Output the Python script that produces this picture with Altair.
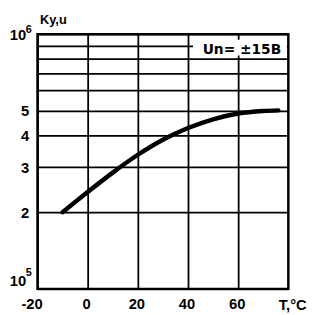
import altair as alt
import pandas as pd

# Curve: gain vs temperature
temps = [-10, 0, 10, 20, 30, 40, 50, 60, 70, 76]
gain = [2.0e5, 2.4e5, 2.86e5, 3.36e5, 3.85e5, 4.28e5, 4.63e5, 4.88e5, 4.99e5, 5.02e5]

# Axis ticks
x_ticks = [-20, 0, 20, 40, 60]
y_ticks = [1e5, 2e5, 3e5, 4e5, 5e5, 6e5, 7e5, 8e5, 9e5, 1e6]

# Exponents of the 10^n labels
exp_text = ["5", "6"]
exp_val = [1e5, 1e6]
exp_x = [-20, -20]

# Annotation
note_text = ["Un= ±15В"]
note_x = [61.5]
note_y = [8.66e5]
box_x = [42]
box_x2 = [79.4]
box_y = [8.25e5]
box_y2 = [9.5e5]

curve = pd.DataFrame({"T": temps, "K": gain})
note = pd.DataFrame({"label": note_text, "x": note_x, "y": note_y,
                     "bx": box_x, "bx2": box_x2, "by": box_y, "by2": box_y2})
exps = pd.DataFrame({"e": exp_text, "v": exp_val, "x": exp_x})

xscale = alt.Scale(domain=[-20, 80], nice=False, zero=False)
yscale = alt.Scale(type="log", domain=[1e5, 1e6], nice=False)

FONT = "Liberation Sans"

xaxis = alt.Axis(
    values=x_ticks, grid=True, ticks=False, domain=False,
    labelExpr="replace(datum.label, '\u2212', '-')",
    labelFont=FONT, labelFontSize=15, labelFontWeight="bold", labelColor="black",
    labelPadding=8, labelFlush=False, labelOverlap=False,
    labelOffset={"condition": {"test": "datum.value == -20", "value": -6}, "value": -1.5},
    title="T,°C", titleFont=FONT, titleFontSize=15, titleFontWeight="bold",
    titleColor="black", titleX=259, titleY=9, titleAlign="center",
    titleBaseline="top", gridColor="black", gridWidth=1.8, gridOpacity=1,
)
yaxis = alt.Axis(
    values=y_ticks, grid=True, ticks=False, domain=False,
    labelExpr="datum.value == 100000 || datum.value == 1000000 ? '10' : (datum.value <= 500001 ? format(round(datum.value/100000), 'd') : '')",
    labelFont=FONT, labelFontSize=15, labelFontWeight="bold", labelColor="black",
    labelPadding={"condition": {"test": "datum.value == 100000 || datum.value == 1000000", "value": 12}, "value": 9},
    labelOverlap=False, labelFlush=False,
    labelBaseline={"condition": {"test": "datum.value == 100000", "value": "bottom"}, "value": "middle"},
    title="Ky,u", titleFont=FONT, titleFontSize=13, titleFontWeight="bold",
    titleColor="black", titleAngle=0, titleAlign="left", titleBaseline="top",
    titleX=2, titleY=-21, gridColor="black", gridWidth=1.8, gridOpacity=1,
)

line = alt.Chart(curve).mark_line(color="black", strokeWidth=4.5, interpolate="monotone", strokeCap="round").encode(
    x=alt.X("T:Q", scale=xscale, axis=xaxis),
    y=alt.Y("K:Q", scale=yscale, axis=yaxis),
)

box = alt.Chart(note).mark_rect(fill="white").encode(
    x=alt.X("bx:Q", scale=xscale), x2="bx2:Q",
    y=alt.Y("by:Q", scale=yscale), y2="by2:Q",
)

text = alt.Chart(note).mark_text(font="DejaVu Sans", fontSize=14, fontWeight="bold", color="black").encode(
    x=alt.X("x:Q", scale=xscale), y=alt.Y("y:Q", scale=yscale), text="label:N",
)

exp6 = alt.Chart(exps).transform_filter("datum.e == '6'").mark_text(
    font=FONT, fontSize=11, fontWeight="bold", color="black", align="left", baseline="middle", dx=-12, dy=-4
).encode(x=alt.X("x:Q", scale=xscale), y=alt.Y("v:Q", scale=yscale), text="e:N")

exp5 = alt.Chart(exps).transform_filter("datum.e == '5'").mark_text(
    font=FONT, fontSize=11, fontWeight="bold", color="black", align="left", baseline="middle", dx=-12, dy=-16
).encode(x=alt.X("x:Q", scale=xscale), y=alt.Y("v:Q", scale=yscale), text="e:N")

chart = alt.layer(line, box, text, exp6, exp5).properties(
    width=255, height=259,
    autosize=alt.AutoSizeParams(type="none"),
    padding={"left": 30, "top": 24, "right": 20, "bottom": 22},
    background="white",
).configure_view(stroke="black", strokeWidth=2.5)

chart.save("out.html", embed_options={"renderer": "svg", "actions": False})
